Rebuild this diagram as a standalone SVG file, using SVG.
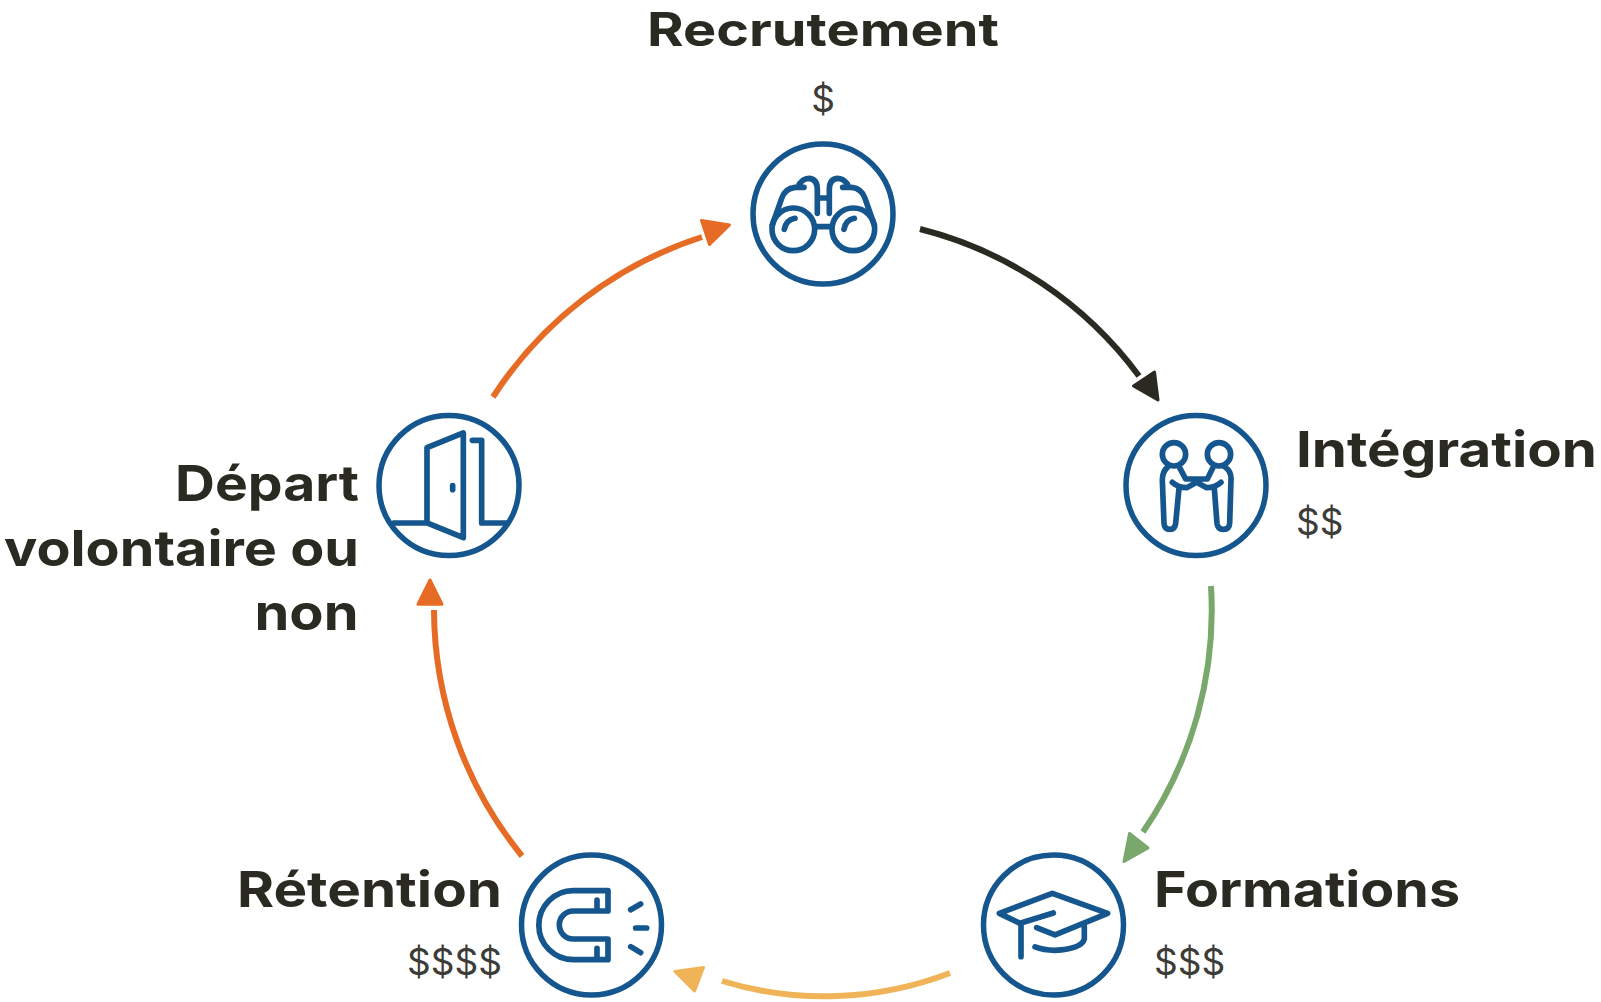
<svg xmlns="http://www.w3.org/2000/svg" width="1601" height="1002" viewBox="0 0 1601 1002">
<style>
.t{font-family:"Inter","Liberation Sans",sans-serif;font-weight:700;font-size:50px;fill:#2b2a22}
.c{font-family:"Inter","Liberation Sans",sans-serif;font-weight:400;font-size:37px;fill:#3c3c38}
.ring{fill:none;stroke:#14568d;stroke-width:5.5}
.ic{fill:none;stroke:#14568d;stroke-width:17;stroke-linecap:round;stroke-linejoin:round}
.a{fill:none;stroke-width:6}
.h{stroke-width:3;stroke-linejoin:round}
</style>
<rect width="1601" height="1002" fill="#fff"/>
<g id="connectors">
<path class="a" stroke="#2b2a22" d="M920 229A392 392 0 0 1 1139 376"/><polygon class="h" fill="#2b2a22" stroke="#2b2a22" points="1158,400 1133.500,386 1154.500,372"/>
<path class="a" stroke="#7aa86c" d="M1211 586A392 392 0 0 1 1143 832"/><polygon class="h" fill="#7aa86c" stroke="#7aa86c" points="1124,861.500 1129.500,833.500 1148,848"/>
<path class="a" stroke="#f0b357" d="M950 973A350 350 0 0 1 722 981"/><polygon class="h" fill="#f0b357" stroke="#f0b357" points="675,971.500 703.500,967.500 694.500,991"/>
<path class="a" stroke="#e66b24" d="M522 856A392 392 0 0 1 434 610"/><polygon class="h" fill="#e66b24" stroke="#e66b24" points="430,580 418,604.200 442,604.200"/>
<path class="a" stroke="#e66b24" d="M493 397A392 392 0 0 1 702 237"/><polygon class="h" fill="#e66b24" stroke="#e66b24" points="701.500,220.500 729.500,225 709.500,244.500"/>
</g>
<g id="recrutement">
<circle class="ring" cx="823" cy="214" r="70"/>
<g transform="translate(740 130) scale(.3333)" class="ic">
<circle cx="160" cy="298" r="64"/><circle cx="340" cy="298" r="64"/>
<path d="M97 285L125 205Q135 175 165 172L192 172M178 162Q190 145 208 145Q232 148 232 178V250M232 204H268M228 290H272M268 250V178Q268 148 292 145Q310 145 322 162M308 172L335 172Q365 175 375 205L403 285M133 298Q138 270 165 265M312 298Q317 270 343 265"/>
</g>
<text class="t" x="823" y="45.500" text-anchor="middle" textLength="352" lengthAdjust="spacingAndGlyphs" style="font-size:46.500px">Recrutement</text>
<text class="c" x="823" y="112" text-anchor="middle">$</text>
</g>
<g id="integration">
<circle class="ring" cx="1196" cy="485.500" r="70"/>
<g transform="translate(1115 405) scale(.3333)" class="ic">
<circle cx="177" cy="148" r="35"/><circle cx="312" cy="148" r="35"/>
<path d="M158 186Q142 200 142 225L147 355Q148 373 165 373Q180 373 182 355L192 250M172 232Q190 248 215 248L245 232M195 190L212 222H277L293 190M330 186Q350 200 348 225L344 355Q343 373 325 373Q308 373 306 355L298 250M318 232Q300 248 275 248L245 232"/>
</g>
<text class="t" x="1296" y="467" textLength="301" lengthAdjust="spacingAndGlyphs">Intégration</text>
<text class="c" x="1296" y="535">$$</text>
</g>
<g id="formations">
<circle class="ring" cx="1053.500" cy="925" r="70"/>
<g transform="translate(975 845) scale(.3333)" class="ic">
<path d="M235 204L135 235L73 205L232 145L398 205L240 270L185 248M135 235H138V335M328 245V282Q320 312 240 316Q205 316 180 306"/>
</g>
<text class="t" x="1154" y="907" textLength="306" lengthAdjust="spacingAndGlyphs">Formations</text>
<text class="c" x="1154" y="975">$$$</text>
</g>
<g id="retention">
<circle class="ring" cx="591.500" cy="925" r="70"/>
<g transform="translate(510 845) scale(.3333)" class="ic">
<path d="M294 137H190A103 103 0 0 0 190 344H294V282H190A42 42 0 0 1 190 198H294ZM261 165V198M261 310V344M362 194L392 177M377 249H410M362 305L392 323"/>
</g>
<text class="t" x="502" y="907" text-anchor="end" textLength="265" lengthAdjust="spacingAndGlyphs">Rétention</text>
<text class="c" x="502" y="975" text-anchor="end">$$$$</text>
</g>
<g id="depart">
<circle class="ring" cx="449" cy="485.500" r="70"/>
<g transform="translate(365 405) scale(.3333)" class="ic">
<path d="M86 354H186V128L295 84V398L186 354M322 106H350V354H425M263 242V254"/>
</g>
<text class="t" x="359" y="501" text-anchor="end" textLength="184" lengthAdjust="spacingAndGlyphs">Départ</text>
<text class="t" x="359" y="566" text-anchor="end" textLength="355" lengthAdjust="spacingAndGlyphs">volontaire ou</text>
<text class="t" x="358.500" y="630" text-anchor="end" textLength="104" lengthAdjust="spacingAndGlyphs">non</text>
</g>
</svg>
